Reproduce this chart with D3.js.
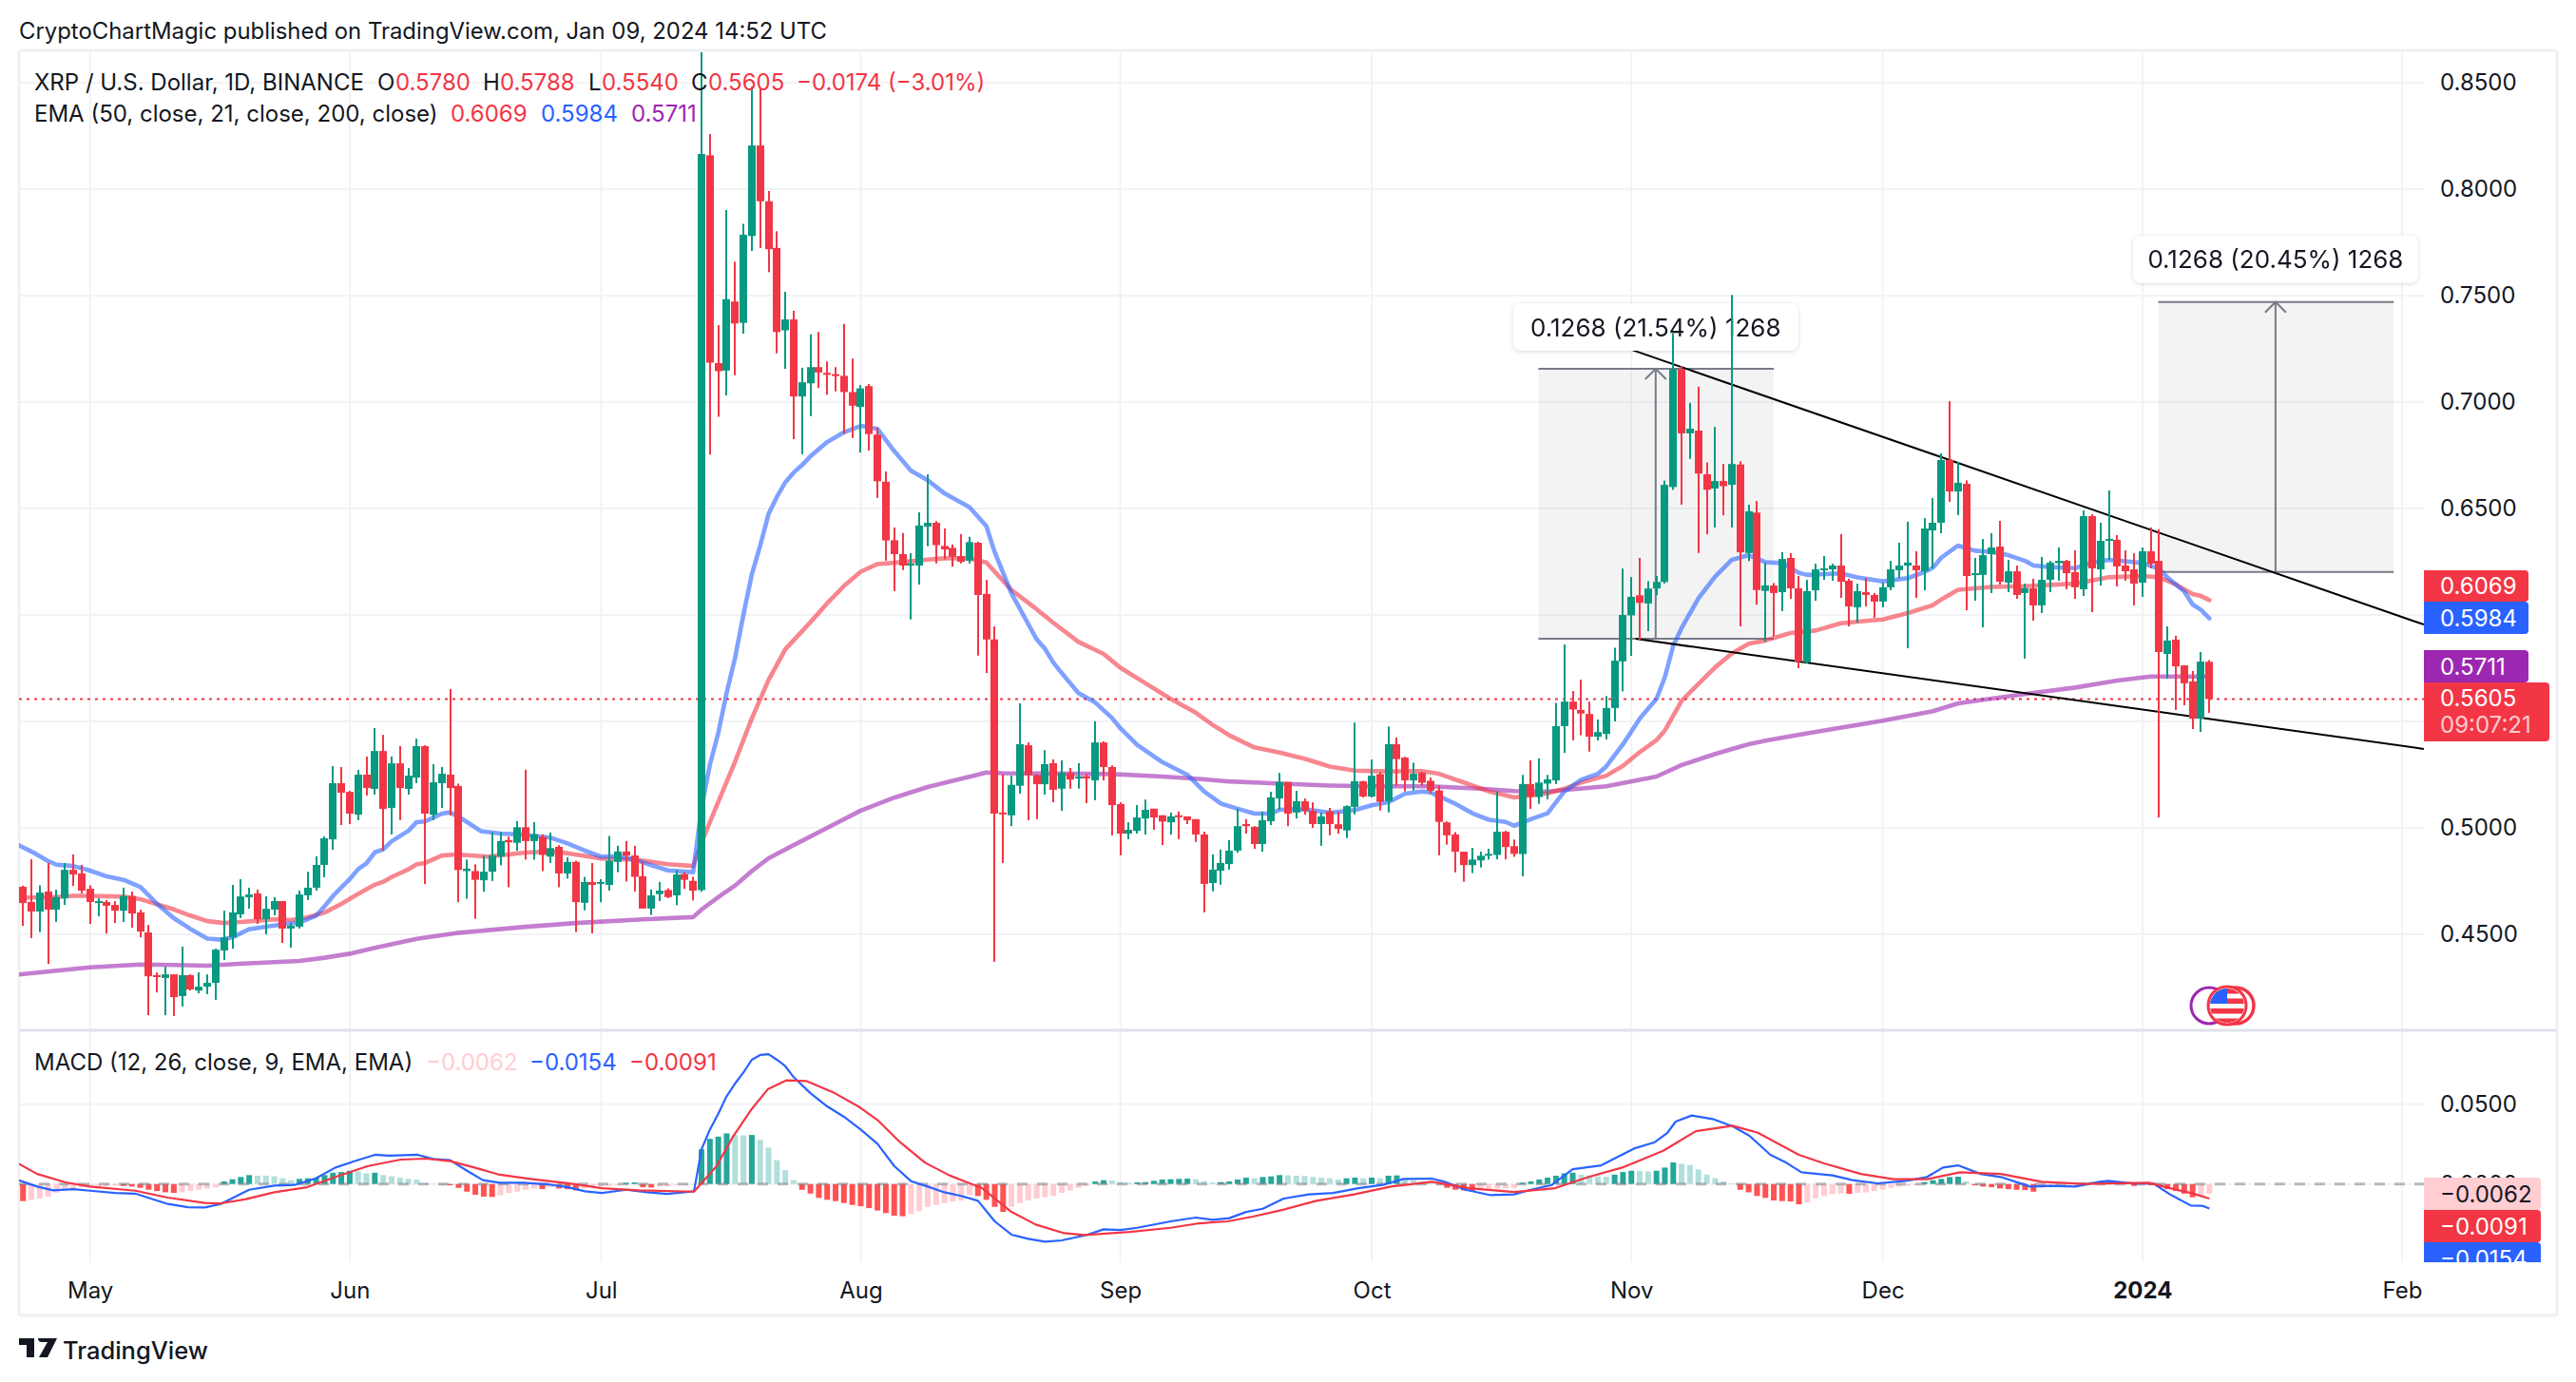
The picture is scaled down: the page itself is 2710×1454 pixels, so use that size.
<!DOCTYPE html>
<html>
<head>
<meta charset="utf-8">
<title>XRP / U.S. Dollar</title>
<script src="https://cdn.jsdelivr.net/npm/d3@7"></script>
<style>
    body { margin: 0; background: #fff; }
    text { font-family: Inter, "Noto Sans", sans-serif; }
</style>
</head>
<body>
<svg width="2710" height="1454"></svg>
<script>
// one candle a day, first one is 23 Apr 2023, last one 9 Jan 2024
let firstCandle = Date.UTC(2023, 3, 23);

let opens = [
    .4723,.4652,.4607,.4701,.4616,.4669,.4803,.4786,.4714,.4649,
    .4652,.4638,.4611,.4680,.4603,.4509,.4308,.4295,.4312,.4210,
    .4308,.4236,.4254,.4272,.4424,.4486,.4594,.4674,.4692,.4571,
    .4616,.4656,.4527,.4536,.4683,.4719,.4826,.4946,.5210,.5169,
    .5062,.5250,.5183,.5361,.5094,.5303,.5183,.5236,.5384,.5062,
    .5210,.5250,.5197,.4797,.4797,.4754,.4794,.4865,.4943,.4930,
    .5003,.4938,.4959,.4865,.4911,.4786,.4840,.4648,.4746,.4737,
    .4732,.4840,.4889,.4870,.4773,.4621,.4689,.4708,.4683,.4783,
    .4751,.4708,.8159,.7183,.7148,.7472,.7372,.7780,.8205,.7943,
    .7724,.7337,.7388,.7026,.7088,.7164,.7137,.7131,.7123,.7047,
    .6977,.7075,.6847,.6626,.6351,.6286,.6232,.6232,.6415,.6433,
    .6324,.6315,.6276,.6255,.6339,.6099,.5885,.5072,.5059,.5198,
    .5388,.5247,.5205,.5304,.5184,.5258,.5234,.5241,.5223,.5401,
    .5286,.5112,.4973,.4986,.5044,.5090,.5059,.5026,.5059,.5054,
    .5041,.4969,.4741,.4799,.4830,.4893,.5018,.5005,.4924,.5031,
    .5138,.5215,.5072,.5125,.5080,.5018,.5077,.5017,.4988,.5099,
    .5219,.5147,.5252,.5125,.5393,.5330,.5223,.5258,.5221,.5176,
    .5026,.4969,.4888,.4825,.4847,.4871,.4873,.4982,.4914,.4877,
    .5206,.5145,.5208,.5223,.5478,.5593,.5554,.5535,.5428,.5441,
    .5563,.5782,.5998,.6092,.6054,.6124,.6155,.6601,.7153,.6853,
    .6866,.6661,.6594,.6629,.6611,.6707,.6291,.6481,.6113,.6138,
    .6107,.6268,.6125,.5777,.6116,.6210,.6214,.6232,.6161,.6036,
    .6107,.6094,.6063,.6130,.6210,.6232,.6232,.6205,.6397,.6433,
    .6728,.6580,.6616,.6188,.6188,.6286,.6321,.6152,.6205,.6103,
    .6125,.6045,.6165,.6243,.6254,.6201,.6121,.6464,.6214,.6348,
    .6353,.6232,.6214,.6152,.6299,.6254,.5817,.5884,.5763,.5688,.5513,.5780
];
let highs = [
    .4729,.4853,.4730,.4836,.4710,.4835,.4875,.4826,.4730,.4669,
    .4661,.4656,.4719,.4701,.4616,.4544,.4321,.4348,.4312,.4442,
    .4312,.4321,.4312,.4433,.4611,.4732,.4759,.4719,.4710,.4678,
    .4674,.4656,.4553,.4705,.4794,.4866,.4960,.5290,.5286,.5174,
    .5272,.5335,.5469,.5437,.5335,.5384,.5281,.5419,.5388,.5299,
    .5286,.5652,.5208,.4851,.4829,.4870,.4981,.4981,.4959,.5032,
    .5273,.5027,.4970,.4978,.4919,.4862,.4846,.4770,.4835,.4759,
    .4962,.4916,.4938,.4916,.4840,.4711,.4746,.4716,.4802,.4792,
    .4770,.8643,.8259,.7361,.7902,.7659,.7837,.8481,.8476,.7991,
    .7802,.7518,.7429,.7161,.7318,.7329,.7191,.7164,.7367,.7204,
    .7080,.7085,.6880,.6674,.6411,.6385,.6290,.6482,.6660,.6441,
    .6406,.6331,.6380,.6367,.6344,.6165,.5946,.5252,.5245,.5585,
    .5401,.5252,.5365,.5322,.5317,.5281,.5304,.5252,.5500,.5406,
    .5294,.5120,.5026,.5107,.5133,.5090,.5059,.5072,.5077,.5054,
    .5041,.4982,.4875,.4898,.4942,.5090,.5041,.5008,.5077,.5169,
    .5258,.5215,.5174,.5138,.5120,.5072,.5094,.5076,.5106,.5495,
    .5221,.5321,.5261,.5476,.5424,.5334,.5306,.5263,.5236,.5199,
    .5030,.4980,.4888,.4906,.4888,.4902,.5171,.4986,.4945,.5249,
    .5317,.5326,.5249,.5587,.5861,.5643,.5696,.5593,.5509,.5619,
    .5846,.6218,.6178,.6268,.6159,.6183,.6631,.7323,.7170,.6996,
    .7072,.6716,.6883,.6709,.7503,.6722,.6518,.6535,.6244,.6150,
    .6295,.6290,.6183,.6165,.6241,.6277,.6241,.6380,.6170,.6147,
    .6174,.6103,.6152,.6254,.6339,.6438,.6299,.6455,.6549,.6759,
    .7004,.6719,.6632,.6268,.6357,.6384,.6442,.6259,.6232,.6147,
    .6170,.6272,.6254,.6317,.6259,.6304,.6491,.6473,.6433,.6585,
    .6375,.6304,.6290,.6317,.6411,.6402,.5946,.5902,.5763,.5737,.5826,.5788
];
let lows = [
    .4540,.4482,.4510,.4361,.4558,.4638,.4727,.4692,.4549,.4585,
    .4504,.4553,.4558,.4531,.4486,.4120,.4227,.4120,.4116,.4161,
    .4236,.4223,.4219,.4192,.4379,.4433,.4576,.4620,.4549,.4500,
    .4589,.4460,.4437,.4527,.4661,.4705,.4768,.4897,.5013,.5018,
    .5036,.5152,.5156,.4893,.4969,.5036,.5156,.5210,.4736,.5036,
    .5094,.5058,.4651,.4667,.4573,.4700,.4751,.4824,.4721,.4892,
    .4851,.4851,.4797,.4835,.4721,.4762,.4510,.4613,.4505,.4651,
    .4705,.4792,.4748,.4700,.4621,.4591,.4656,.4670,.4637,.4713,
    .4659,.4700,.6753,.6931,.7031,.7126,.7321,.7710,.7724,.7610,
    .7229,.7156,.6826,.6755,.6934,.7066,.7034,.7050,.6850,.6831,
    .6763,.6772,.6550,.6255,.6112,.6211,.5979,.6143,.6323,.6242,
    .6261,.6227,.6242,.6242,.5809,.5727,.4371,.4835,.5008,.5161,
    .5036,.5041,.5156,.5120,.5080,.5184,.5184,.5116,.5130,.5223,
    .4965,.4871,.4947,.4973,.4969,.4991,.4919,.4969,.4947,.5018,
    .4934,.4603,.4702,.4733,.4804,.4883,.4973,.4901,.4888,.5013,
    .5085,.5008,.5044,.5062,.5000,.4916,.4965,.4973,.4952,.5063,
    .5143,.5143,.5082,.5073,.5199,.5171,.5175,.5199,.5162,.4871,
    .4921,.4791,.4747,.4788,.4814,.4851,.4852,.4852,.4864,.4773,
    .5089,.5113,.5134,.5206,.5352,.5411,.5435,.5358,.5411,.5415,
    .5500,.5641,.5808,.5883,.5924,.6092,.6148,.6588,.6518,.6733,
    .6291,.6379,.6411,.6468,.6411,.5946,.6253,.6048,.5874,.5900,
    .6018,.6076,.5750,.5772,.6067,.6165,.6161,.6080,.5946,.5964,
    .6040,.5987,.6036,.6116,.6174,.5844,.6080,.6116,.6219,.6384,
    .6531,.6469,.6022,.6067,.5942,.6103,.6143,.6107,.6076,.5795,
    .5973,.6009,.6107,.6161,.6121,.6076,.6089,.6013,.6138,.6259,
    .6134,.6161,.6045,.6085,.6219,.5049,.5701,.5554,.5576,.5464,.5451,.5540
];
let closes = [
    .4647,.4607,.4696,.4616,.4675,.4803,.4781,.4705,.4652,.4656,
    .4634,.4611,.4680,.4598,.4513,.4303,.4302,.4312,.4205,.4308,
    .4241,.4254,.4272,.4428,.4486,.4603,.4678,.4687,.4571,.4620,
    .4656,.4527,.4540,.4687,.4719,.4826,.4951,.5210,.5165,.5067,
    .5250,.5187,.5361,.5089,.5303,.5187,.5245,.5384,.5067,.5214,
    .5254,.5187,.4802,.4808,.4756,.4794,.4870,.4938,.4932,.5003,
    .4938,.4970,.4873,.4905,.4786,.4840,.4651,.4746,.4732,.4746,
    .4846,.4889,.4870,.4770,.4621,.4683,.4705,.4675,.4781,.4756,
    .4705,.8165,.7185,.7145,.7483,.7369,.7786,.8205,.7943,.7718,
    .7329,.7388,.7026,.7093,.7164,.7139,.7129,.7123,.7047,.6983,
    .7064,.6850,.6628,.6350,.6286,.6232,.6242,.6420,.6433,.6328,
    .6308,.6274,.6250,.6342,.6094,.5885,.5067,.5065,.5202,.5393,
    .5247,.5205,.5299,.5179,.5258,.5227,.5241,.5234,.5401,.5286,
    .5107,.4973,.4991,.5049,.5085,.5049,.5030,.5054,.5052,.5036,
    .4969,.4737,.4804,.4835,.4893,.5008,.5008,.4924,.5036,.5143,
    .5215,.5067,.5125,.5080,.5018,.5054,.5018,.4995,.5102,.5219,
    .5147,.5245,.5123,.5393,.5323,.5223,.5254,.5212,.5175,.5028,
    .4965,.4888,.4825,.4851,.4869,.4878,.4982,.4910,.4878,.5206,
    .5145,.5213,.5228,.5478,.5593,.5556,.5537,.5428,.5450,.5563,
    .5785,.6000,.6085,.6057,.6124,.6155,.6611,.7153,.6853,.6875,
    .6664,.6588,.6629,.6605,.6709,.6294,.6487,.6117,.6139,.6103,
    .6263,.6125,.5781,.6112,.6214,.6219,.6232,.6156,.6040,.6112,
    .6094,.6063,.6130,.6214,.6232,.6246,.6210,.6406,.6433,.6728,
    .6580,.6621,.6183,.6196,.6281,.6317,.6156,.6205,.6094,.6125,
    .6045,.6165,.6246,.6254,.6196,.6130,.6464,.6219,.6348,.6357,
    .6228,.6205,.6147,.6299,.6241,.5826,.5880,.5759,.5679,.5513,.5781,.5605
];

// moving averages, read at day offsets from 1 May 2023
let ema21Days = [-8.5,-6.6,-5,-4,-2,0,2,4,6,8,10,12,14,15.7,17,19,21,23,25,27,28,29,31,32,33,34,35,36,38,39,40,42,43,44.5,46.7,49,51,55,57,59,61,63,65,67,69,72,73,74,75,76,77,78,79,80,81,82,83,84,85,86,88,90,92,94,96,98,100,102,105,107,108,110,113,114,115,116,118,120,122,123,125,128,131,133,135,137,139,141,142,144,146,148,151,153,155,157,159,160,163,165,167,169,170,172,174,176,178,180,181,183,185,187,188,189,190,192,194,196,198,200,202,204,205,207,209,211,214,217,219,220,221,223,225,227,229,231,232,234,237,239,241,243,245,247,248,250,251,252,253];
let ema21Vals = [.4918,.4881,.4844,.4827,.4821,.4799,.4772,.4756,.4723,.4643,.4576,.4525,.4480,.4475,.4486,.4524,.4536,.4547,.4555,.4588,.4632,.4680,.4759,.4806,.4833,.4885,.4899,.4937,.4986,.5027,.5030,.5067,.5073,.5040,.4984,.4973,.4970,.4954,.4927,.4894,.4865,.4867,.4851,.4824,.4800,.4792,.5095,.5297,.5446,.5635,.5798,.6001,.6190,.6325,.6474,.6555,.6623,.6669,.6704,.6745,.6812,.6858,.6888,.6874,.6770,.6677,.6633,.6571,.6506,.6417,.6295,.6101,.5886,.5841,.5776,.5727,.5633,.5589,.5516,.5468,.5390,.5309,.5249,.5171,.5114,.5090,.5067,.5067,.5085,.5088,.5082,.5071,.5084,.5106,.5121,.5161,.5171,.5167,.5113,.5069,.5038,.5028,.5010,.5041,.5069,.5171,.5226,.5254,.5288,.5393,.5513,.5606,.5708,.5856,.5939,.6078,.6180,.6259,.6281,.6248,.6244,.6198,.6188,.6192,.6195,.6176,.6158,.6173,.6202,.6222,.6269,.6326,.6302,.6296,.6281,.6254,.6232,.6225,.6220,.6247,.6259,.6252,.6244,.6217,.6176,.6110,.6049,.6024,.5984];

let ema50Days = [-8.5,-4,-2,0,4,6,8,10,12,14,16,18,20,22,24,26,28,30,32,34,35,36,38,39,40,42,43.7,47.5,52,55,57,61,65,69,72,73,75,77,79,81,83,86,88,90,92,94,96,100,102,105,107,108,110,113,115,118,121,123,126,129,132,134,136,139,142,145,148,151,155,159,161,164,167,169,170,172,174,176,178,181,183,185,187,188,190,192,194,196,198,200,203,206,209,212,214,217,220,221,223,227,231,234,237,240,241,245,247,249,251,252,253];
let ema50Vals = [.4672,.4675,.4681,.4681,.4677,.4665,.4641,.4617,.4588,.4562,.4553,.4558,.4564,.4570,.4567,.4580,.4602,.4643,.4690,.4733,.4747,.4769,.4805,.4829,.4835,.4870,.4875,.4865,.4884,.4889,.4881,.4856,.4851,.4829,.4821,.4932,.5122,.5311,.5514,.5695,.5839,.5966,.6055,.6136,.6203,.6239,.6245,.6260,.6266,.6266,.6247,.6203,.6117,.6027,.5963,.5873,.5817,.5752,.5679,.5606,.5541,.5484,.5435,.5378,.5354,.5325,.5288,.5269,.5265,.5267,.5254,.5213,.5171,.5153,.5143,.5153,.5162,.5184,.5213,.5245,.5291,.5356,.5412,.5458,.5597,.5676,.5754,.5819,.5865,.5880,.5915,.5927,.5961,.5972,.5979,.6009,.6046,.6073,.6118,.6132,.6135,.6141,.6147,.6170,.6177,.6183,.6177,.6143,.6098,.6089,.6070];

let ema200Days = [-8.5,0,6,10,14,19,25,28,31,34,39,43.7,52,58,66,72,73,75,77,79,81,84,88,92,96,100,105,107,109,115,122,128,132,136,141,148,153,160,166,170,174,181,187,190,194,198,200.3,206,214,220,223,227,232,237,242,246,253];
let ema200Vals = [.4311,.4345,.4358,.4356,.4353,.4364,.4375,.4390,.4409,.4436,.4479,.4506,.4535,.4553,.4570,.4581,.4616,.4675,.4729,.4797,.4857,.4919,.5000,.5081,.5142,.5192,.5240,.5260,.5257,.5255,.5253,.5241,.5231,.5218,.5210,.5199,.5195,.5195,.5184,.5173,.5171,.5195,.5241,.5295,.5347,.5393,.5412,.5451,.5503,.5548,.5585,.5607,.5634,.5659,.5692,.5711,.5711];

// MACD pane
let macdDays = [-8.5,-6.3,-4.4,-2,0,3,5.4,6.9,9.3,11.7,13.7,15.6,19,22,24.4,26.9,29.3,31.8,34,35.7,39.1,41,43,45,46.9,48.9,51.8,54.7,57.2,59.1,61.1,64,66.5,68.9,72.1,73,74,75,76,77,78,79,80,81,82,83,84,86,88,90,92,94,96,98,100,102,104,106,108,110,112,114,116,119,121,123,125,129,132,134,136,138,140,142.5,145.5,148.4,151.4,154.3,156.8,160.2,161.7,164.2,167.1,170,172,174.5,177,180.4,184.3,186.8,188.3,189.3,191.2,193.7,196.1,198.1,200.6,202.5,204.3,208,210.4,213.4,216.8,219.3,221.2,223,225.7,228.1,231.6,234,237,239.9,240.9,243.9,246.3,248.3,250.8,252.2,253];
let macdVals = [.0024,-.0016,-.0040,-.0032,-.0042,-.0056,-.0060,-.0085,-.0125,-.0145,-.0147,-.0125,-.0036,-.0010,-.0006,.0034,.0103,.0147,.0183,.0177,.0183,.0157,.0149,.0083,.0024,.0008,.0008,-.0002,-.0022,-.0046,-.0056,-.0036,-.0052,-.0062,-.0046,.0218,.0341,.0440,.0550,.0629,.0698,.0778,.0808,.0813,.0778,.0738,.0669,.0569,.0486,.0421,.0341,.0252,.0113,.0018,-.0016,-.0052,-.0075,-.0105,-.0234,-.0317,-.0343,-.0361,-.0353,-.0319,-.0284,-.0288,-.0274,-.0234,-.0210,-.0224,-.0214,-.0175,-.0155,-.0091,-.0065,-.0056,-.0026,-.0006,.0032,.0034,.0014,-.0036,-.0069,-.0065,-.0036,-.0006,.0093,.0117,.0222,.0262,.0321,.0391,.0429,.0407,.0361,.0302,.0183,.0133,.0073,.0054,.0024,.0004,.0020,.0044,.0103,.0117,.0063,.0044,-.0016,-.0012,-.0016,.0014,.0020,.0004,.0004,-.0065,-.0135,-.0137,-.0154];

let signalDays = [-8.5,-6.3,-2.9,0,5.4,9.3,13.7,15.6,18.6,22,25.9,29.3,33.2,37.1,40.1,43,45.9,48.9,52.8,57.7,61.1,65.5,72.1,74.8,76.7,79,80.9,83.1,85.5,88.9,91.9,94,96.7,99.7,102.6,106.5,110,112.9,116.3,118.7,124.1,129,132.4,135.8,138.8,142.5,146.4,150.9,155.3,160.2,164.6,170,174.9,178.9,182.9,187.8,191.7,196.1,199.1,204,207,211.4,215.3,219.3,223.2,228.1,233,238,240.9,245.8,248.3,250.8,253];
let signalVals = [.0127,.0063,.0010,-.0016,-.0042,-.0085,-.0119,-.0121,-.0095,-.0052,-.0020,.0044,.0113,.0153,.0159,.0143,.0103,.0058,.0030,.0000,-.0026,-.0040,-.0048,.0113,.0292,.0470,.0593,.0649,.0645,.0569,.0480,.0401,.0262,.0133,.0054,-.0026,-.0175,-.0254,-.0308,-.0319,-.0300,-.0274,-.0246,-.0234,-.0204,-.0160,-.0105,-.0065,-.0016,.0014,-.0026,-.0050,-.0026,.0044,.0103,.0208,.0331,.0365,.0321,.0183,.0129,.0063,.0030,.0030,.0073,.0063,.0014,.0000,.0004,.0008,-.0026,-.0056,-.0091];

let histogram = [
    -.0107,-.0099,-.0091,-.0079,-.0056,-.0040,-.0028,-.0020,-.0016,-.0012,
    -.0012,-.0010,-.0012,-.0016,-.0024,-.0036,-.0044,-.0052,-.0056,-.0052,
    -.0044,-.0036,-.0028,-.0020,.0016,.0030,.0044,.0056,.0052,.0052,
    .0048,.0036,.0024,.0032,.0036,.0040,.0056,.0071,.0075,.0083,
    .0079,.0067,.0071,.0056,.0048,.0040,.0032,.0028,.0004,.0002,
    -.0004,-.0008,-.0024,-.0048,-.0067,-.0079,-.0081,-.0071,-.0056,-.0048,
    -.0036,-.0028,-.0032,-.0020,-.0028,-.0032,-.0040,-.0028,-.0020,-.0016,
    -.0012,-.0008,.0008,.0010,-.0020,-.0022,-.0016,-.0014,-.0008,-.0006,
    -.0004,.0218,.0283,.0297,.0317,.0307,.0305,.0307,.0277,.0228,
    .0149,.0087,.0024,-.0036,-.0060,-.0087,-.0099,-.0107,-.0119,-.0131,
    -.0139,-.0151,-.0166,-.0182,-.0198,-.0202,-.0188,-.0170,-.0143,-.0131,
    -.0119,-.0109,-.0103,-.0069,-.0075,-.0099,-.0143,-.0175,-.0143,-.0119,
    -.0103,-.0091,-.0083,-.0075,-.0056,-.0040,-.0024,-.0012,.0016,.0024,
    .0022,.0012,.0008,.0010,.0012,.0020,.0028,.0030,.0032,.0034,
    .0030,.0018,.0010,.0012,.0016,.0028,.0040,.0036,.0044,.0048,
    .0056,.0054,.0052,.0050,.0044,.0040,.0036,.0028,.0036,.0040,
    .0036,.0040,.0036,.0052,.0054,.0032,.0024,.0016,.0006,-.0004,
    -.0024,-.0036,-.0040,-.0048,-.0036,-.0032,-.0030,-.0028,-.0026,.0008,
    .0016,.0028,.0040,.0052,.0067,.0071,.0059,.0053,.0048,.0046,
    .0059,.0075,.0083,.0081,.0079,.0083,.0103,.0135,.0127,.0119,
    .0091,.0059,.0036,.0016,.0004,-.0036,-.0052,-.0075,-.0087,-.0103,
    -.0107,-.0109,-.0127,-.0115,-.0089,-.0075,-.0063,-.0059,-.0061,-.0056,
    -.0052,-.0044,-.0036,-.0024,-.0016,-.0012,-.0008,.0012,.0024,.0032,
    .0044,.0046,.0016,-.0008,-.0016,-.0020,-.0028,-.0032,-.0036,-.0038,
    -.0048,-.0024,-.0016,-.0008,-.0006,.0004,.0008,.0012,.0014,.0016,
    .0006,.0004,-.0012,-.0004,-.0008,-.0016,-.0032,-.0044,-.0060,-.0083,-.0071,-.0062
];

// axes
let monthTicks = [[2023,4],[2023,5],[2023,6],[2023,7],[2023,8],[2023,9],[2023,10],[2023,11],[2024,0],[2024,1]];
let monthLabels = ['May','Jun','Jul','Aug','Sep','Oct','Nov','Dec','2024','Feb'];
let priceTicks = [.45,.5,.55,.6,.65,.7,.75,.8,.85];
// 0.55 and 0.60 sit under the value tags, the reference shows no text for them
let priceLabelTicks = [.45,.5,.65,.7,.75,.8,.85];
let macdTicks = [0,.05];

// drawings, in day offsets and prices
let upperTrendDays = [184, 278.6], upperTrendVals = [.7246, .5955];
let lowerTrendDays = [184.5, 278.6], lowerTrendVals = [.5888, .5371];
let measureDays = [[172.9, 201, 186.9], [246.9, 275, 260.9]];
let measureVals = [[.5888, .7156], [.6202, .7470]];
let measureText = ['0.1268 (21.54%) 1268', '0.1268 (20.45%) 1268'];

let green = '#089981', red = '#f23645', blue = '#2962ff', purple = '#9c27b0';
let gridColor = '#f2f3f6', paneBorder = '#e0e3eb', textColor = '#131722';

document.addEventListener('DOMContentLoaded', function() {
    let svg = d3.select('svg');

    let x = d3.scaleUtc()
        .domain([new Date(Date.UTC(2023, 4, 1)), new Date(Date.UTC(2024, 1, 1))])
        .range([94.7, 2527]);
    let y = d3.scaleLinear().domain([.45, .85]).range([983, 87]);
    let yMacd = d3.scaleLinear().domain([-.05, .05]).range([1329.7, 1161.7]);

    let dayToDate = d => new Date(Date.UTC(2023, 4, 1) + d * 864e5);
    let candleDate = i => new Date(firstCandle + i * 864e5);

    let defs = svg.append('defs');
    defs.append('clipPath').attr('id', 'mainClip').append('rect')
        .attr('x', 20).attr('y', 53).attr('width', 2530).attr('height', 1030);
    defs.append('clipPath').attr('id', 'macdClip').append('rect')
        .attr('x', 20).attr('y', 1086).attr('width', 2530).attr('height', 242);
    defs.append('clipPath').attr('id', 'macdAxisClip').append('rect')
        .attr('x', 2550).attr('y', 1086).attr('width', 140).attr('height', 242);
    defs.append('clipPath').attr('id', 'flagClip').append('circle')
        .attr('cx', 2343).attr('cy', 1058).attr('r', 18);

    // grid
    let grid = svg.append('g').attr('class', 'grid');
    grid.selectAll('line.v')
        .data(monthTicks)
        .join('line')
        .attr('class', 'v')
        .attr('x1', d => x(new Date(Date.UTC(d[0], d[1], 1))))
        .attr('x2', d => x(new Date(Date.UTC(d[0], d[1], 1))))
        .attr('y1', 53).attr('y2', 1328)
        .attr('stroke', gridColor).attr('stroke-width', 2);
    grid.selectAll('line.h')
        .data(priceTicks)
        .join('line')
        .attr('class', 'h')
        .attr('x1', 20).attr('x2', 2550)
        .attr('y1', d => y(d)).attr('y2', d => y(d))
        .attr('stroke', gridColor).attr('stroke-width', 2);
    grid.selectAll('line.m')
        .data(macdTicks)
        .join('line')
        .attr('class', 'm')
        .attr('x1', 20).attr('x2', 2550)
        .attr('y1', d => yMacd(d)).attr('y2', d => yMacd(d))
        .attr('stroke', gridColor).attr('stroke-width', 2);

    // frame
    let frame = [[20, 53, 2690, 53], [20, 1384, 2690, 1384], [20, 53, 20, 1384], [2690, 53, 2690, 1384]];
    svg.append('g').selectAll('line')
        .data(frame)
        .join('line')
        .attr('x1', d => d[0]).attr('y1', d => d[1])
        .attr('x2', d => d[2]).attr('y2', d => d[3])
        .attr('stroke', '#f0f1f5').attr('stroke-width', 3);
    svg.append('line')
        .attr('x1', 20).attr('x2', 2690).attr('y1', 1084).attr('y2', 1084)
        .attr('stroke', paneBorder).attr('stroke-width', 3);

    let main = svg.append('g').attr('clip-path', 'url(#mainClip)');

    // measure boxes
    measureDays.forEach(function(days, i) {
        let vals = measureVals[i];
        let box = main.append('g').attr('class', 'measure');
        box.append('rect')
            .attr('x', x(dayToDate(days[0])))
            .attr('y', y(vals[1]))
            .attr('width', x(dayToDate(days[1])) - x(dayToDate(days[0])))
            .attr('height', y(vals[0]) - y(vals[1]))
            .attr('fill', '#787b86').attr('fill-opacity', .09);
        vals.forEach(function(v) {
            box.append('line')
                .attr('x1', x(dayToDate(days[0]))).attr('x2', x(dayToDate(days[1])))
                .attr('y1', y(v)).attr('y2', y(v))
                .attr('stroke', '#787b86').attr('stroke-width', 2);
        });
        let ax = x(dayToDate(days[2]));
        box.append('path')
            .attr('d', `M${ax},${y(vals[0])}V${y(vals[1])}M${ax - 11},${y(vals[1]) + 11}L${ax},${y(vals[1])}L${ax + 11},${y(vals[1]) + 11}`)
            .attr('fill', 'none')
            .attr('stroke', '#787b86').attr('stroke-width', 2);
    });

    // last price
    main.append('line')
        .attr('x1', 20).attr('x2', 2550)
        .attr('y1', y(closes[closes.length - 1])).attr('y2', y(closes[closes.length - 1]))
        .attr('stroke', red).attr('stroke-width', 2)
        .attr('stroke-dasharray', '3 5');

    // EMAs
    let emaLine = (days, vals, color) => main.append('path')
        .datum(days.map((d, i) => [d, vals[i]]))
        .attr('d', d3.line().x(d => x(dayToDate(d[0]))).y(d => y(d[1])))
        .attr('fill', 'none')
        .attr('stroke', color)
        .attr('stroke-opacity', .6)
        .attr('stroke-width', 4.6)
        .attr('stroke-linejoin', 'round')
        .attr('stroke-linecap', 'round');
    emaLine(ema200Days, ema200Vals, purple);
    emaLine(ema50Days, ema50Vals, red);
    emaLine(ema21Days, ema21Vals, blue);

    // trend lines
    [[upperTrendDays, upperTrendVals], [lowerTrendDays, lowerTrendVals]].forEach(function(t) {
        main.append('line')
            .attr('x1', x(dayToDate(t[0][0]))).attr('y1', y(t[1][0]))
            .attr('x2', x(dayToDate(t[0][1]))).attr('y2', y(t[1][1]))
            .attr('stroke', '#000').attr('stroke-width', 2);
    });

    // measure labels
    measureDays.forEach(function(days, i) {
        let ax = x(dayToDate(days[2]));
        let top = y(measureVals[i][1]);
        let w = 300;
        let label = svg.append('g').style('filter', 'drop-shadow(0 1px 2px rgba(0,0,0,.15))');
        label.append('rect')
            .attr('x', ax - w / 2).attr('y', i == 0 ? top - 69 : top - 70)
            .attr('width', w).attr('height', 50).attr('rx', 8)
            .attr('fill', '#fff');
        label.append('text')
            .attr('x', ax).attr('y', (i == 0 ? top - 69 : top - 70) + 25)
            .attr('text-anchor', 'middle').attr('dominant-baseline', 'central')
            .attr('font-size', 26).attr('fill', textColor)
            .text(measureText[i]);
    });

    // candles
    let candles = svg.append('g').attr('clip-path', 'url(#mainClip)')
        .selectAll('g')
        .data(d3.range(opens.length))
        .join('g')
        .attr('fill', i => closes[i] >= opens[i] ? green : red);
    candles.append('rect')
        .attr('x', i => Math.round(x(candleDate(i))) - 1)
        .attr('y', i => y(highs[i]))
        .attr('width', 2)
        .attr('height', i => y(lows[i]) - y(highs[i]));
    candles.append('rect')
        .attr('x', i => Math.round(x(candleDate(i))) - 4)
        .attr('y', i => y(Math.max(opens[i], closes[i])))
        .attr('width', 8)
        .attr('height', i => Math.max(2, Math.abs(y(opens[i]) - y(closes[i]))));

    // MACD pane
    let macdPane = svg.append('g').attr('clip-path', 'url(#macdClip)');
    macdPane.selectAll('rect')
        .data(histogram)
        .join('rect')
        .attr('x', (d, i) => x(candleDate(i)) - 3)
        .attr('width', 6)
        .attr('y', d => Math.min(yMacd(d), yMacd(0)))
        .attr('height', d => Math.abs(yMacd(d) - yMacd(0)))
        .attr('fill', function(d, i) {
            let prev = i > 0 ? histogram[i - 1] : 0;
            if (d >= 0) return d > prev ? '#26a69a' : '#b2dfdb';
            return d < prev ? '#ff5252' : '#ffcdd2';
        });
    macdPane.append('line')
        .attr('x1', 20).attr('x2', 2550)
        .attr('y1', yMacd(0)).attr('y2', yMacd(0))
        .attr('stroke', '#787b86').attr('stroke-opacity', .5)
        .attr('stroke-width', 3).attr('stroke-dasharray', '11 10');
    let macdLine = (days, vals, color) => macdPane.append('path')
        .datum(days.map((d, i) => [d, vals[i]]))
        .attr('d', d3.line().x(d => x(dayToDate(d[0]))).y(d => yMacd(d[1])))
        .attr('fill', 'none')
        .attr('stroke', color)
        .attr('stroke-width', 2.2)
        .attr('stroke-linejoin', 'round');
    macdLine(macdDays, macdVals, blue);
    macdLine(signalDays, signalVals, red);

    // time axis
    let timeAxis = d3.axisBottom(x)
        .tickValues(monthTicks.map(d => new Date(Date.UTC(d[0], d[1], 1))))
        .tickFormat((d, i) => monthLabels[i])
        .tickSize(0).tickPadding(0);
    let tg = svg.append('g').attr('transform', 'translate(0,1358)').call(timeAxis);
    tg.select('.domain').remove();
    tg.selectAll('text')
        .attr('dy', '0.35em')
        .attr('font-size', 24).attr('fill', textColor)
        .style('font-family', 'Inter, sans-serif')
        .attr('font-weight', (d, i) => monthLabels[i] == '2024' ? 700 : 400);

    // price axes
    let priceAxis = d3.axisRight(y)
        .tickValues(priceLabelTicks)
        .tickFormat(d3.format('.4f'))
        .tickSize(0).tickPadding(17);
    let pg = svg.append('g').attr('transform', 'translate(2550,0)').call(priceAxis);
    pg.select('.domain').remove();
    pg.selectAll('text').attr('font-size', 24).attr('fill', textColor)
        .style('font-family', 'Inter, sans-serif');

    let macdAxis = d3.axisRight(yMacd)
        .tickValues(macdTicks)
        .tickFormat(d3.format('.4f'))
        .tickSize(0).tickPadding(17);
    let mg = svg.append('g').attr('transform', 'translate(2550,0)').call(macdAxis);
    mg.select('.domain').remove();
    mg.selectAll('text').attr('font-size', 24).attr('fill', textColor)
        .style('font-family', 'Inter, sans-serif');

    // value tags on the price scale
    function tagPath(x0, y0, w, h, r) {
        return `M${x0},${y0}H${x0 + w - r}Q${x0 + w},${y0} ${x0 + w},${y0 + r}V${y0 + h - r}Q${x0 + w},${y0 + h} ${x0 + w - r},${y0 + h}H${x0}Z`;
    }
    let tags = [
        { top: 600, h: 33, w: 110, fill: red, color: '#fff', text: '0.6069' },
        { top: 633, h: 34, w: 110, fill: blue, color: '#fff', text: '0.5984' },
        { top: 684, h: 34, w: 110, fill: purple, color: '#fff', text: '0.5711' }
    ];
    let tagGroup = svg.append('g');
    tags.forEach(function(t) {
        tagGroup.append('path').attr('d', tagPath(2550, t.top, t.w, t.h, 4)).attr('fill', t.fill);
        tagGroup.append('text')
            .attr('x', 2567).attr('y', t.top + t.h / 2)
            .attr('dominant-baseline', 'central')
            .attr('font-size', 24).attr('fill', t.color)
            .text(t.text);
    });
    tagGroup.append('path').attr('d', tagPath(2550, 718, 132, 62, 4)).attr('fill', red);
    tagGroup.append('text').attr('x', 2567).attr('y', 734.5)
        .attr('dominant-baseline', 'central')
        .attr('font-size', 24).attr('fill', '#fff').text('0.5605');
    tagGroup.append('text').attr('x', 2567).attr('y', 762.5)
        .attr('dominant-baseline', 'central')
        .attr('font-size', 24).attr('fill', '#fff').attr('fill-opacity', .75).text('09:07:21');

    let macdTags = [
        { top: 1239, h: 34, fill: '#ffcdd2', color: textColor, text: '\u22120.0062' },
        { top: 1273, h: 34, fill: red, color: '#fff', text: '\u22120.0091' },
        { top: 1307, h: 34, fill: blue, color: '#fff', text: '\u22120.0154' }
    ];
    let macdTagGroup = svg.append('g').attr('clip-path', 'url(#macdAxisClip)');
    macdTags.forEach(function(t) {
        macdTagGroup.append('path').attr('d', tagPath(2550, t.top, 123, t.h, 4)).attr('fill', t.fill);
        macdTagGroup.append('text')
            .attr('x', 2567).attr('y', t.top + t.h / 2)
            .attr('dominant-baseline', 'central')
            .attr('font-size', 24).attr('fill', t.color)
            .text(t.text);
    });

    // legends
    function legendRun(px, py, text, color, size) {
        svg.append('text')
            .attr('x', px).attr('y', py)
            .attr('dominant-baseline', 'central')
            .attr('font-size', size || 24).attr('fill', color)
            .text(text);
    }
    legendRun(20, 32, 'CryptoChartMagic published on TradingView.com, Jan 09, 2024 14:52 UTC', textColor, 23.9);
    legendRun(36, 86, 'XRP / U.S. Dollar, 1D, BINANCE', textColor);
    legendRun(397, 86, 'O', textColor);
    legendRun(416, 86, '0.5780', red);
    legendRun(508, 86, 'H', textColor);
    legendRun(526, 86, '0.5788', red);
    legendRun(619, 86, 'L', textColor);
    legendRun(633, 86, '0.5540', red);
    legendRun(727, 86, 'C', textColor);
    legendRun(745, 86, '0.5605', red);
    legendRun(838, 86, '\u22120.0174 (\u22123.01%)', red);
    legendRun(36, 119, 'EMA (50, close, 21, close, 200, close)', textColor);
    legendRun(474, 119, '0.6069', red);
    legendRun(569, 119, '0.5984', blue);
    legendRun(664, 119, '0.5711', purple);
    legendRun(36, 1117, 'MACD (12, 26, close, 9, EMA, EMA)', textColor);
    legendRun(448, 1117, '\u22120.0062', '#ffcdd2');
    legendRun(557, 1117, '\u22120.0154', blue);
    legendRun(662, 1117, '\u22120.0091', red);

    // currency flag badge
    let badge = svg.append('g');
    badge.append('circle').attr('cx', 2324).attr('cy', 1058).attr('r', 19)
        .attr('fill', '#fff').attr('stroke', purple).attr('stroke-width', 3);
    badge.append('circle').attr('cx', 2352).attr('cy', 1058).attr('r', 19)
        .attr('fill', '#fff').attr('stroke', red).attr('stroke-width', 3.5);
    badge.append('circle').attr('cx', 2343).attr('cy', 1058).attr('r', 20)
        .attr('fill', '#fff').attr('stroke', red).attr('stroke-width', 3);
    let flag = badge.append('g').attr('clip-path', 'url(#flagClip)');
    flag.append('rect').attr('x', 2325).attr('y', 1040).attr('width', 36).attr('height', 36).attr('fill', '#fff');
    d3.range(4).forEach(function(i) {
        flag.append('rect').attr('x', 2325).attr('y', 1040 + i * 10.5).attr('width', 36).attr('height', 5.5).attr('fill', red);
    });
    flag.append('rect').attr('x', 2325).attr('y', 1040).attr('width', 18).attr('height', 16).attr('fill', '#2962ff');

    // footer
    svg.append('path')
        .attr('d', 'M20,1408H36V1428H28V1415H20ZM40,1408H60L50,1428H41L50,1412H44A4,4 0 0 1 40,1408Z')
        .attr('fill', textColor);
    svg.append('text')
        .attr('x', 66).attr('y', 1420)
        .attr('dominant-baseline', 'central')
        .attr('font-size', 25.5).attr('font-weight', 500).attr('fill', textColor)
        .text('TradingView');
});
</script>
</body>
</html>
